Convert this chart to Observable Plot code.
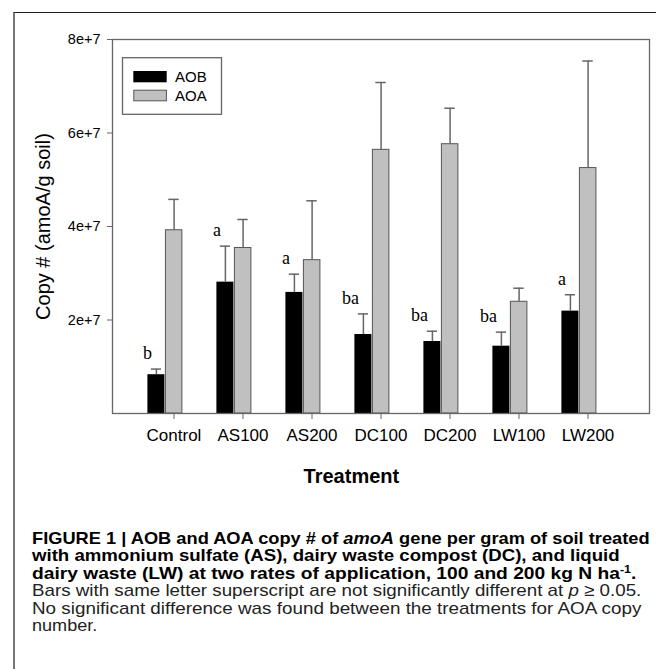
<!DOCTYPE html>
<html>
<head>
<meta charset="utf-8">
<script src="https://cdn.jsdelivr.net/npm/d3@7"></script>
<script src="https://cdn.jsdelivr.net/npm/@observablehq/plot@0.6"></script>
<style>
  html, body { margin: 0; padding: 0; background: #fff; }
  #wrap { position: relative; width: 656px; height: 669px; overflow: hidden; background: #fff; }
  #border { position: absolute; left: 13px; top: 12px; right: -2px; bottom: -2px;
            border-left: 2px solid #777; border-top: 1.5px solid #222; }
  #chart { position: absolute; left: 0; top: 0; }
  #legend { position: absolute; left: 0; top: 0; }
  #caption { position: absolute; left: 31.7px; top: 530px; font-family: "Liberation Sans", Arial, sans-serif;
             font-size: 17px; line-height: 17.4px; color: #222; white-space: nowrap; }
  #caption .b { font-weight: bold; color: #000; }
  #caption .ln { display: inline-block; transform-origin: 0 50%; }
  #caption sup { font-size: 11px; line-height: 0; vertical-align: 6px; }
</style>
</head>
<body>
<div id="wrap">
  <div id="border"></div>
  <div id="chart"></div>
  <svg id="legend" width="656" height="140">
    <rect x="122.5" y="57.7" width="99" height="56.6" fill="none" stroke="#666" stroke-width="1.3"></rect>
    <rect x="133.3" y="71" width="33.4" height="11.3" fill="#000"></rect>
    <rect x="133.8" y="90.2" width="32.6" height="10.6" fill="#c0c0c0" stroke="#555" stroke-width="1"></rect>
    <text x="175" y="82.3" font-family="Liberation Sans, Arial, sans-serif" font-size="15">AOB</text>
    <text x="175" y="101" font-family="Liberation Sans, Arial, sans-serif" font-size="15">AOA</text>
  </svg>
  <div id="caption">
    <span class="ln b">FIGURE 1 | AOB and AOA copy # of <i>amoA</i> gene per gram of soil treated</span><br>
    <span class="ln b">with ammonium sulfate (AS), dairy waste compost (DC), and liquid</span><br>
    <span class="ln b">dairy waste (LW) at two rates of application, 100 and 200 kg N ha<sup>-1</sup>.</span><br>
    <span class="ln">Bars with same letter superscript are not significantly different at <i>p</i> ≥ 0.05.</span><br>
    <span class="ln">No significant difference was found between the treatments for AOA copy</span><br>
    <span class="ln">number.</span>
  </div>
</div>
<script>
// ---- data ----
const treatments = ["Control", "AS100", "AS200", "DC100", "DC200", "LW100", "LW200"];
const aobValues = [8.3e6, 2.81e7, 2.59e7, 1.69e7, 1.54e7, 1.44e7, 2.19e7];
const aobErrors = [1.2e6, 7.7e6, 3.9e6, 4.4e6, 2.2e6, 3.0e6, 3.5e6];
const aoaValues = [3.92e7, 3.54e7, 3.28e7, 5.64e7, 5.76e7, 2.39e7, 5.25e7];
const aoaErrors = [6.6e6, 6.1e6, 1.27e7, 1.44e7, 7.7e6, 2.9e6, 2.29e7];
const letters = ["b", "a", "a", "ba", "ba", "ba", "a"];
const yTicks = [2e7, 4e7, 6e7, 8e7];
const yTickLabels = ["2e+7", "4e+7", "6e+7", "8e+7"];

const aob = treatments.map((t, i) => ({treatment: t, value: aobValues[i], upper: aobValues[i] + aobErrors[i], letter: letters[i]}));
const aoa = treatments.map((t, i) => ({treatment: t, value: aoaValues[i], upper: aoaValues[i] + aoaErrors[i]}));

const sans = "Liberation Sans, Arial, sans-serif";
const errColor = "#666";

const chart = Plot.plot({
  width: 656,
  height: 500,
  marginLeft: 112,
  marginRight: 7,
  marginTop: 39,
  marginBottom: 87,
  style: {fontFamily: sans, background: "transparent", overflow: "visible"},
  x: {domain: treatments, paddingInner: 0, paddingOuter: 0.347, label: null, axis: null},
  y: {domain: [0, 8e7], label: null, axis: null},
  marks: [
    Plot.barY(aob, {x: "treatment", y: "value", fill: "#000", insetLeft: 8.4, insetRight: 43.6}),
    Plot.barY(aoa, {x: "treatment", y: "value", fill: "#c0c0c0", stroke: "#555", strokeWidth: 1, insetLeft: 26.4, insetRight: 26.1}),
    Plot.ruleX(aob, {x: "treatment", y1: "value", y2: "upper", dx: -17.6, stroke: errColor, strokeWidth: 1.5}),
    Plot.tickY(aob, {x: "treatment", y: "upper", insetLeft: 11.8, insetRight: 47, stroke: errColor, strokeWidth: 1.5}),
    Plot.ruleX(aoa, {x: "treatment", y1: "value", y2: "upper", dx: 0.1, stroke: errColor, strokeWidth: 1.5}),
    Plot.tickY(aoa, {x: "treatment", y: "upper", insetLeft: 29.3, insetRight: 29.3, stroke: errColor, strokeWidth: 1.5}),
    Plot.text(aob, {x: "treatment", y: "upper", text: "letter", textAnchor: "end", lineAnchor: "bottom",
      dx: -22, dy: -10, fontFamily: "Liberation Serif, Times New Roman, serif", fontSize: 18, fill: "#000"}),
    Plot.frame({stroke: "#666", strokeWidth: 1.3}),
    Plot.axisY(yTicks, {tickSize: 5, tickPadding: 7, fontSize: 14.5, stroke: "#666", fill: "#000",
      tickFormat: d => yTickLabels[yTicks.indexOf(d)], label: null}),
    Plot.axisX({tickSize: 6, tickPadding: 9, fontSize: 17, stroke: "#666", fill: "#000", label: null}),
    Plot.text(["Copy # (amoA/g soil)"], {frameAnchor: "left", text: d => d, rotate: -90, textAnchor: "middle",
      lineAnchor: "bottom", dx: -62.7, fontSize: 20, fill: "#000"}),
    Plot.text(["Treatment"], {frameAnchor: "bottom", text: d => d, textAnchor: "middle", lineAnchor: "bottom",
      dx: -29.6, dy: 69.6, fontSize: 20, fontWeight: "bold", fill: "#000"})
  ]
});
document.getElementById("chart").appendChild(chart);

// stretch caption lines to the widths of the printed caption
const lineTargets = [617.6, 587.6, 604.3, 609.3, 609.3, 65.3];
document.querySelectorAll("#caption .ln").forEach((el, i) => {
  const w = el.getBoundingClientRect().width;
  el.style.transform = "scaleX(" + (lineTargets[i] / w) + ")";
});
</script>
</body>
</html>
